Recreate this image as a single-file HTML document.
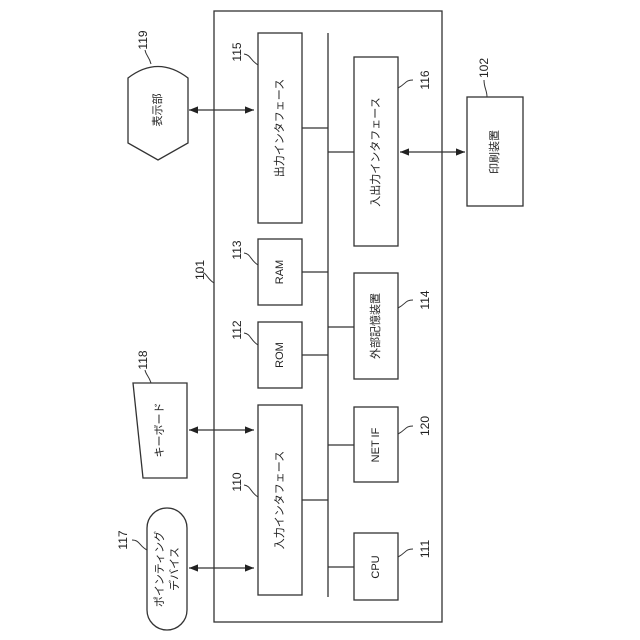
<!DOCTYPE html>
<html><head><meta charset="utf-8"><style>body{margin:0;background:#fff}svg{display:block}</style></head><body>
<svg width="640" height="640" viewBox="0 0 640 640" xmlns="http://www.w3.org/2000/svg" font-family="Liberation Sans, Noto Sans CJK JP, sans-serif">
<defs><marker id="a" viewBox="0 0 10 10" refX="10" refY="5" markerWidth="7" markerHeight="7" orient="auto-start-reverse"><path d="M0,1L10,5L0,9z" fill="#222"/></marker></defs>
<g fill="none" stroke="#333" stroke-width="1.3">
<rect x="214" y="11" width="228" height="611"/>
<rect x="258" y="33" width="44" height="190"/>
<rect x="354" y="57" width="44" height="189"/>
<rect x="258" y="239" width="44" height="66"/>
<rect x="258" y="322" width="44" height="66"/>
<rect x="258" y="405" width="44" height="190"/>
<rect x="354" y="273" width="44" height="106"/>
<rect x="354" y="407" width="44" height="75"/>
<rect x="354" y="533" width="44" height="67"/>
<rect x="467" y="97" width="56" height="109"/>
<line x1="328" y1="33" x2="328" y2="597"/>
<line x1="302" y1="128" x2="328" y2="128"/><line x1="328" y1="152" x2="354" y2="152"/>
<line x1="302" y1="272" x2="328" y2="272"/><line x1="302" y1="355" x2="328" y2="355"/>
<line x1="302" y1="500" x2="328" y2="500"/><line x1="328" y1="327" x2="354" y2="327"/>
<line x1="328" y1="445" x2="354" y2="445"/><line x1="328" y1="567" x2="354" y2="567"/>
<path d="M128,78 Q158,55 188,78 L188,143 L158,160 L128,143 Z"/>
<path d="M133,383 L187,383 L187,478 L143,478 Z"/>
<rect x="147" y="508" width="40" height="122" rx="20"/>
<line x1="189" y1="110" x2="254" y2="110" marker-start="url(#a)" marker-end="url(#a)"/>
<line x1="189" y1="430" x2="254" y2="430" marker-start="url(#a)" marker-end="url(#a)"/>
<line x1="189" y1="568" x2="254" y2="568" marker-start="url(#a)" marker-end="url(#a)"/>
<line x1="400" y1="152" x2="465" y2="152" marker-start="url(#a)" marker-end="url(#a)"/>
<g stroke-width="1">
<path d="M151,64 C149,56 146,56 145,50"/>
<path d="M258,65 C250,60 251,55 244,54"/>
<path d="M398,88 C406,84 405,80 413,80"/>
<path d="M487,97 C487,90 484,88 484,80"/>
<path d="M258,265 C250,260 251,254 244,253"/>
<path d="M214,283 C206,278 207,272 200,272"/>
<path d="M398,308 C406,304 405,300 413,300"/>
<path d="M258,345 C250,340 251,334 244,333"/>
<path d="M151,383 C149,376 146,375 145,370"/>
<path d="M398,434 C406,430 405,426 413,426"/>
<path d="M258,497 C250,492 251,486 244,485"/>
<path d="M398,557 C406,553 405,549 413,549"/>
<path d="M147,550 C139,546 140,540 132,540"/>
</g></g>
<g font-size="11" fill="#222" text-anchor="middle" dominant-baseline="central">
<text transform="translate(280,128) rotate(-90)">出力インタフェース</text>
<text transform="translate(376,152) rotate(-90)">入出力インタフェース</text>
<text transform="translate(280,272) rotate(-90)">RAM</text>
<text transform="translate(280,355) rotate(-90)">ROM</text>
<text transform="translate(280,500) rotate(-90)">入力インタフェース</text>
<text transform="translate(376,326) rotate(-90)">外部記憶装置</text>
<text transform="translate(376,445) rotate(-90)">NET IF</text>
<text transform="translate(376,567) rotate(-90)">CPU</text>
<text transform="translate(495,152) rotate(-90)">印刷装置</text>
<text transform="translate(158,110) rotate(-90)">表示部</text>
<text transform="translate(160,430) rotate(-90)">キーボード</text>
<text transform="translate(160,569) rotate(-90)">ポインティング</text>
<text transform="translate(175,569) rotate(-90)">デバイス</text>
<g font-size="12">
<text transform="translate(143,40) rotate(-90)">119</text>
<text transform="translate(237,52) rotate(-90)">115</text>
<text transform="translate(425,80) rotate(-90)">116</text>
<text transform="translate(484,68) rotate(-90)">102</text>
<text transform="translate(237,250) rotate(-90)">113</text>
<text transform="translate(200,270) rotate(-90)">101</text>
<text transform="translate(425,300) rotate(-90)">114</text>
<text transform="translate(237,330) rotate(-90)">112</text>
<text transform="translate(143,360) rotate(-90)">118</text>
<text transform="translate(425,426) rotate(-90)">120</text>
<text transform="translate(237,482) rotate(-90)">110</text>
<text transform="translate(425,549) rotate(-90)">111</text>
<text transform="translate(123,540) rotate(-90)">117</text>
</g></g>
</svg>
</body></html>
